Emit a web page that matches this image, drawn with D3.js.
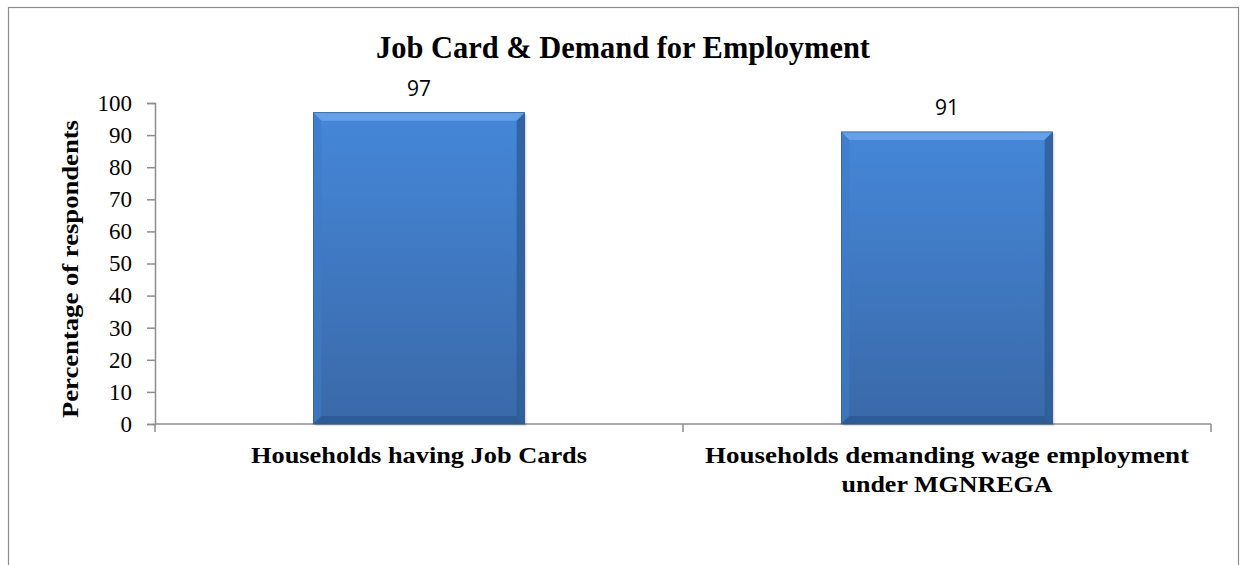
<!DOCTYPE html>
<html><head><meta charset="utf-8">
<script src="https://cdn.jsdelivr.net/npm/d3@7"></script>
<style>body{margin:0;background:#fff}svg{display:block}</style>
</head><body>
<script>
const categories = ["Households having Job Cards", "Households demanding wage employment under MGNREGA"];
const categoryLines = [["Households having Job Cards"], ["Households demanding wage employment", "under MGNREGA"]];
const values = [97, 91];
const yTicks = [0,10,20,30,40,50,60,70,80,90,100];
const title = "Job Card & Demand for Employment";
const yLabel = "Percentage of respondents";

(function(){
const W = 1241, H = 565;
const serif = "'Liberation Serif', 'Times New Roman', serif";
const svg = d3.select("body").append("svg").attr("width", W).attr("height", H);
const defs = svg.append("defs");
const g1 = defs.append("linearGradient").attr("id","barg").attr("x1",0).attr("y1",0).attr("x2",0).attr("y2",1);
g1.append("stop").attr("offset","0%").attr("stop-color","#4587D9");
g1.append("stop").attr("offset","100%").attr("stop-color","#3A69A8");

// frame
svg.append("rect").attr("x",8.5).attr("y",7.5).attr("width",1230).attr("height",600)
  .attr("fill","none").attr("stroke","#8c8c8c").attr("stroke-width",1.2);

const pLeft = 155, pRight = 1211, pTop = 103, pBottom = 424;
const x = d3.scaleBand().domain(categories).range([pLeft, pRight]).paddingInner(0.6).paddingOuter(0.3);
const y = d3.scaleLinear().domain([0,100]).range([pBottom, pTop]);

// y axis
const yAxis = svg.append("g").attr("transform",`translate(${pLeft},0)`)
  .call(d3.axisLeft(y).tickValues(yTicks).tickSize(8).tickPadding(15));
yAxis.select(".domain").attr("stroke","#8c8c8c").attr("stroke-width",1.5);
yAxis.selectAll(".tick line").attr("stroke","#8c8c8c").attr("stroke-width",1.5);
yAxis.selectAll("text").attr("font-family",serif).attr("font-size",23).attr("fill","#000");

// x axis line and ticks
svg.append("line").attr("x1",pLeft).attr("x2",pRight).attr("y1",pBottom).attr("y2",pBottom)
  .attr("stroke","#8c8c8c").attr("stroke-width",1.5);
const bw = (pRight-pLeft)/categories.length;
svg.selectAll(".xt").data(d3.range(categories.length+1)).enter().append("line")
  .attr("x1",i=>pLeft+i*bw).attr("x2",i=>pLeft+i*bw).attr("y1",pBottom).attr("y2",pBottom+8)
  .attr("stroke","#8c8c8c").attr("stroke-width",1.5);

const labelWidths = [[336],[484,211]];

// bars
const bars = svg.selectAll(".bar").data(categories).enter().append("g");
bars.each(function(c,i){
  const gg = d3.select(this);
  const x0 = x(c), w = x.bandwidth(), y0 = y(values[i]), h = pBottom - y0;
  const b = 8;
  gg.append("rect").attr("x",x0+2).attr("y",y0+2).attr("width",w).attr("height",h).attr("fill","#000").attr("opacity",0.12);
  gg.append("rect").attr("x",x0).attr("y",y0).attr("width",w).attr("height",h).attr("fill","url(#barg)");
  gg.append("polygon").attr("points",`${x0},${y0} ${x0+w},${y0} ${x0+w-b},${y0+b} ${x0+b},${y0+b}`).attr("fill","#6AA6EC").attr("opacity",0.85);
  gg.append("polygon").attr("points",`${x0},${y0} ${x0+b},${y0+b} ${x0+b},${pBottom-b} ${x0},${pBottom}`).attr("fill","#3F7BC6").attr("opacity",0.6);
  gg.append("polygon").attr("points",`${x0+w},${y0} ${x0+w-b},${y0+b} ${x0+w-b},${pBottom-b} ${x0+w},${pBottom}`).attr("fill","#2F5E9A").attr("opacity",0.85);
  gg.append("polygon").attr("points",`${x0},${pBottom} ${x0+b},${pBottom-b} ${x0+w-b},${pBottom-b} ${x0+w},${pBottom}`).attr("fill","#2D5A93").attr("opacity",0.85);
  gg.append("rect").attr("x",x0).attr("y",y0).attr("width",w).attr("height",h).attr("fill","none").attr("stroke","#2D5A93").attr("stroke-width",0.8);
  gg.append("text").attr("x",x0+w/2).attr("y",y0-17).attr("text-anchor","middle")
    .attr("font-family","'Open Sans', sans-serif").attr("font-size",21).attr("fill","#000").text(values[i]);
  categoryLines[i].forEach((ln,k)=>{
    gg.append("text").attr("text-anchor","middle").attr("font-family",serif)
      .attr("font-weight","bold").attr("font-size",23).attr("fill","#000")
      .attr("x",x0+w/2).attr("y",463+k*29)
      .attr("textLength",labelWidths[i][k]).attr("lengthAdjust","spacingAndGlyphs").text(ln);
  });
});

svg.append("text").attr("x",623).attr("y",58).attr("text-anchor","middle")
  .attr("font-family",serif).attr("font-weight","bold").attr("font-size",32)
  .attr("textLength",494).attr("lengthAdjust","spacingAndGlyphs").text(title);
svg.append("text").attr("transform",`translate(78,269) rotate(-90)`).attr("text-anchor","middle")
  .attr("font-family",serif).attr("font-weight","bold").attr("font-size",23)
  .attr("textLength",298).attr("lengthAdjust","spacingAndGlyphs").text(yLabel);
})();
</script>
</body></html>
